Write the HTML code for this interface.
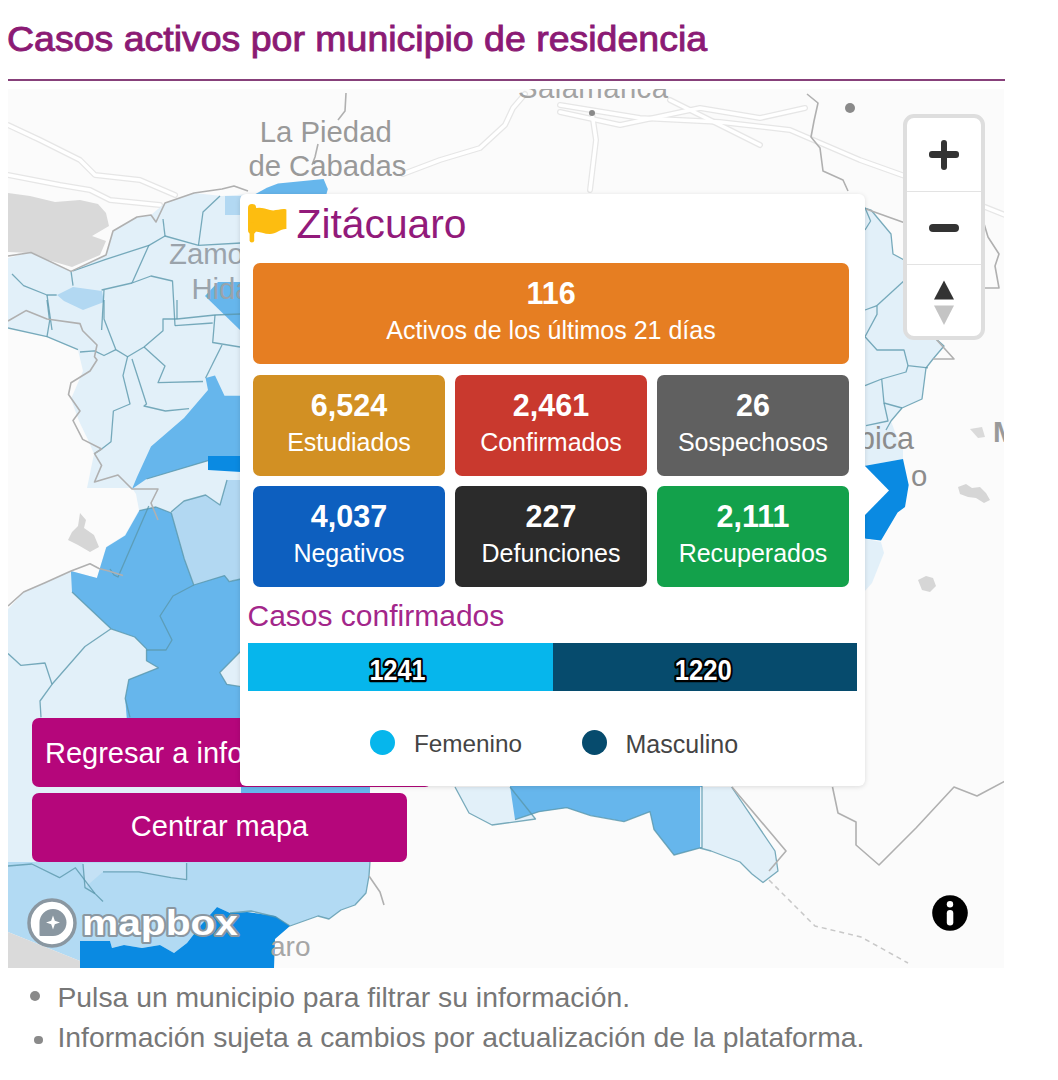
<!DOCTYPE html>
<html><head><meta charset="utf-8">
<style>
html,body{margin:0;padding:0;background:#fff;width:1058px;height:1080px;overflow:hidden;position:relative;font-family:"Liberation Sans",sans-serif;}
.abs{position:absolute;}
#title{left:7px;top:14px;font-size:35px;letter-spacing:0px;color:#8b1a74;white-space:nowrap;line-height:50px;-webkit-text-stroke:0.9px #8b1a74;transform-origin:0 0;transform:scaleX(1.071);}
#rule{left:8px;top:78.5px;width:997px;height:2.5px;background:#87407a;}
#map{left:8px;top:89px;width:996px;height:879px;overflow:hidden;background:#fbfbfb;}
#map svg{position:absolute;left:0;top:0;}
.btn{position:absolute;background:#b5067b;border-radius:7px;color:#fff;font-size:29px;white-space:nowrap;overflow:hidden;}
#card{left:240px;top:194px;width:625px;height:592px;background:#fff;border-radius:6px;box-shadow:0 1px 5px rgba(0,0,0,0.13);}
.box{position:absolute;border-radius:7px;color:#fff;text-align:center;height:101px;}
.box .n{position:absolute;left:0;right:0;top:13px;font-size:30.5px;font-weight:bold;line-height:34px;}
.box .l{position:absolute;left:0;right:0;top:52px;font-size:25px;line-height:30px;}
.note{position:absolute;left:57.5px;font-size:28.3px;color:#777;white-space:nowrap;line-height:32px;}
.bul{position:absolute;left:29px;width:10px;height:10px;border-radius:50%;background:#8a8a8a;}
.zc{position:absolute;left:903px;top:114px;width:74px;height:218px;border:4px solid #dedede;border-radius:11px;background:#fff;}
</style></head><body>
<div id="title" class="abs">Casos activos por municipio de residencia</div>
<div id="rule" class="abs"></div>
<div id="map" class="abs">
<svg width="997" height="879" viewBox="8 89 997 879">

<rect x="8" y="83" width="997" height="885" fill="#fbfbfb"/>
<!-- faint roads -->
<g fill="none" stroke-linejoin="round" stroke-linecap="round">
<g stroke="#e6e6e6" stroke-width="6">
<polyline points="8,125 40,140 80,160 95,175 140,180 175,195"/>
<polyline points="8,175 60,185 90,190 110,200 160,205"/>
<polyline points="403,174 440,160 480,148 505,125 513,108 525,94"/>
<polyline points="560,105 640,118 720,122 790,130 860,160 930,185 1005,215"/>
<polyline points="560,112 620,125 700,108 760,118 805,108"/>
<polyline points="670,100 720,125 760,145"/>
<polyline points="592,113 596,140 590,190"/>
</g>
<g stroke="#ffffff" stroke-width="3.5">
<polyline points="8,125 40,140 80,160 95,175 140,180 175,195"/>
<polyline points="8,175 60,185 90,190 110,200 160,205"/>
<polyline points="403,174 440,160 480,148 505,125 513,108 525,94"/>
<polyline points="560,105 640,118 720,122 790,130 860,160 930,185 1005,215"/>
<polyline points="560,112 620,125 700,108 760,118 805,108"/>
<polyline points="670,100 720,125 760,145"/>
<polyline points="592,113 596,140 590,190"/>
</g>
</g>
<!-- gray water top-left -->
<polygon fill="#d9d9d9" points="8,193 30,196 55,202 80,200 98,204 106,213 109,226 92,236 106,241 100,255 72,267 48,260 30,253 8,252"/>
<!-- light blue base left -->
<polygon fill="#e2f0f9" points="8,258 31,252 71,271 106,255 113,231 137,217 151,215 165,203 194,193 222,196 250,194 250,870 8,870"/>
<!-- white bay -->
<polygon fill="#fbfbfb" points="8,328 47,337 78,350 83,371 71,399 79,421 89,442 94,454 87,488 132,488 136,494 139,510 125,535 106,547 97,578 71,571 24,592 8,609"/>
<polygon fill="#d6d6d6" points="80,513 86,520 84,528 94,535 99,547 90,552 78,545 68,540 72,532 78,526"/>
<!-- medium light patches -->
<polygon fill="#b2d8f2" points="57,295 73,287 102,291 104,302 83,310 64,301"/>
<polygon fill="#b2d8f2" points="225,196 241,196 241,215 225,215"/>
<polygon fill="#b2d8f2" points="171,512 184,501 205.6,495 220,505 227,480 241,480 241,579 194,585 184,559"/>
<!-- medium blue left -->
<polygon fill="#66b6ec" points="205,296 218,282 241,282 241,331"/>
<polygon fill="#66b6ec" points="205.6,378 215,375.6 224.5,395.7 241,395.7 241,460.7 208,460.7 146.5,479 132,489 137,477 151,446.5 184,418 208,390"/>
<polygon fill="#0a8ae2" points="208,456 241,456 241,472 208,470"/>
<polygon fill="#66b6ec" points="139.4,510.6 156,507 171.3,513 184.3,559 193.8,585 224.5,575.6 229.2,581.5 241,579 241,651 219.8,672.5 226.8,684.3 241,686.7 241,740 241,787 370,787 370,795 241,795 241,786 130,760 125.2,698.5 128.8,679.6 158.3,667.8 146.5,660.7 146.5,648.9 134.7,637 111,628.8 72,592 70.9,571 96.9,578 106.3,547.3 125.2,535.4"/>
<!-- top medium blue near card -->
<polygon fill="#66b6ec" points="255.5,194 266.9,187.7 278,183.5 323.6,179 327.8,189 326,196 255,196"/>
<!-- lower left -->
<polygon fill="#b2daf3" points="8,862 370,862 369,876 366,893 355,905 341,910 329,919 318,916 290,926 276,917 251,911 230,913 217,907 201,925 187,943 174,953 160,945 142,948 124,945 112,948 110,941 80,941 80,961 8,932"/>
<polygon fill="#c4e1f5" points="83,863 186.6,863 186.6,879.7 171,877.7 139,871.8 103,871.8 85,887.6"/>
<polygon fill="#dadada" points="8,932 80,961 80,968 8,968"/>
<polygon fill="#0a8ae2" points="80,941 110,941 112,948 124,945 142,948 160,945 174,953 187,943 201,925 217,907 230,913 247,912 275,916 290,926 275,939 274,968 80,968"/>
<!-- bottom center -->
<polygon fill="#e2f0f9" points="455,787 469,813 492,825 535.5,819 510,787"/>
<polygon fill="#66b6ec" points="510,786 702,786 702,847.4 674,855 654,829.5 650,811.7 624,821.6 590.5,815.6 566.7,807.7 539,811.7 515,819.6"/>
<polygon fill="#e2f0f9" points="700,787 731.6,787 775,851 778,871 763,882.5 752,874 740,862 711,851 700,848"/>
<!-- right of card -->
<polygon fill="#e2f0f9" points="865,208 871,210 891,234 893,254 906,261 935,338 944,346 933,359 926,368 922,399 902,408 891,421 895,432 903,449.6 903,459 864,466 864,208"/>
<polygon fill="#0a8ae2" points="864,466 903,459 908.7,485 905,507 897.6,512.6 881,540.4 864,538.5"/>
<polygon fill="#e2f0f9" points="864,538.5 881,542 884,553 872,583 864,592"/>
<!-- teal polygon lines -->
<g fill="none" stroke="#5a97ab" stroke-width="1.3" stroke-opacity="0.8" stroke-linejoin="round">
<polyline points="12,274 23.6,285.6 47,295 56.7,295"/>
<polyline points="47,295 52,330"/>
<polyline points="71,271 73,285.6"/>
<polyline points="73,271 105,259.6 149,245.4 165,236 198.5,245.4 241,243"/>
<polyline points="149,245 132,283 151,276 172.5,281 175,325.7"/>
<polyline points="104,290 101.6,330"/>
<polyline points="101.6,290 132,283"/>
<polyline points="165,236 163,219"/>
<polyline points="198.5,245 203,212 220,196"/>
<polyline points="175,325.7 212.7,323"/>
<polyline points="8,328 47,336.6 78,349.6"/>
<polyline points="47,300 49.6,321 47,336.6"/>
<polyline points="104,300 104,319 115.8,349.6 127.6,356.7 144,347 163,330.7 163,319 177,319 215,315 240,314"/>
<polyline points="177,300 177,319"/>
<polyline points="215,315 212.7,342.5 240,347"/>
<polyline points="80,352 94.5,350.8 104,355.5 115.8,349.6"/>
<polyline points="127.6,356.7 123,375.6 130,404 113.4,411 111,441.8 101.6,449 94.5,453.6"/>
<polyline points="132,359 146.5,404 144,406 165.4,411 189,408.7"/>
<polyline points="144,347 165,366 158,382.7 203,381.5"/>
<polyline points="205.6,378 222,345"/>
<polyline points="8,653.6 21,665.4 45,663 52,684.3 40,701 41,717.4"/>
<polyline points="52,684.3 85,646.5 111,628.8"/>
<polyline points="72,592 111,628.8 134.7,637 146.5,648.9 146.5,660.7 158.3,667.8 128.8,679.6 125.2,698.5 130,717.4"/>
<polyline points="139.4,510.6 156,507 171.3,513 184.3,559 193.8,585 224.5,575.6 229.2,581.5 241,579"/>
<polyline points="241,651 219.8,672.5 226.8,684.3 241,686.7"/>
<polyline points="148.8,506 118,577 114,575 110,569"/>
<polyline points="193.8,585 173,596 160,616 172,640 166,650 146.5,650"/>
<polyline points="171,512 184,501 205.6,495 220,505 227,480"/>
<polyline points="146.5,479 208,460.7"/>
<polyline points="865,207.8 870.6,221 865,230"/>
<polyline points="877,305.6 906,279"/>
<polyline points="877,305.6 865,310"/>
<polyline points="877,305.6 877,314.4 865,336.7 877,350 904,350 908,365.6 928,367.8"/>
<polyline points="908,365.6 906,372 881.7,379 865,385.6"/>
<polyline points="881.7,379 884,403 902,408"/>
<polyline points="884,403 888,421 866,425.6"/>
<polyline points="865,208 871,210 891,234 893,254 906,261"/>
<polyline points="935,338 944,346 933,359 926,368 922,399 902,408 891,421 886,430"/>
<polyline points="455,787 469,813 492,825 535.5,819 510,787"/>
<polyline points="515,819.6 539,811.7 566.7,807.7 590.5,815.6 624,821.6 650,811.7 654,829.5 674,855 702,847.4 702,786"/>
<polyline points="731.6,787 775,851 778,871 763,882.5 752,874 740,862 711,851 700,848"/>
<polyline points="8,866 31.8,864 59.5,877.7 75.4,867.8 95,893.6 103,901.5"/>
<polyline points="83,864 85,887.6 95,893.6"/>
<polyline points="103,871.8 139,871.8 171,877.7 186.6,879.7 186.6,863"/>
<polyline points="370,862 369,876 366,893 355,905 341,910 329,919 318,916 290,926 276,917 251,911 230,913"/>
</g>
<!-- gray state boundaries -->
<g fill="none" stroke="#b0b0b0" stroke-width="1.6" stroke-linejoin="round">
<polyline points="8,256 31,252.5 71,271.4 106,255 113,231 137,217 151,215 156,222 165,203 194,193 222,189 234,186 248,191"/>
<polyline points="8,321 26,310.6 47,319 80,323.6 82.7,330.7 97,345 94.5,356.7 97,360 90,371 71,382.7 68.5,394.5 80,411 73,420.5 82.7,439.4 101.6,449 94.5,453.6 101.6,465.4 94.5,482 118,475 132,489 158,489 151,503 158,520"/>
<polyline points="8,606 23.6,592 45,582.7 71,571 90,563.8 99,568.5 108.7,571 123,575.6"/>
<polyline points="346,93 345,111 338,120"/>
<polyline points="318,144 315,157 312,165"/>
<polyline points="807,94 818,103 814,121 811,137 820,148 823,171 843,180 848,191"/>
<polyline points="982,217 988,237 999,254 995,266 999,288 982,288"/>
<polyline points="732,787 786,851 769,871"/>
<polyline points="832.5,787 838,813 856,822 856,845 879,865 893,851 916,828 954,787 977,796 1005,781"/>
<polyline points="369,876 380,892 384,905"/>
<polyline points="935,338 954,359 933,359"/>
<polyline points="866,209 908,224"/>
</g>
<g fill="none" stroke="#c8c8c8" stroke-width="1.5" stroke-dasharray="5,4">
<polyline points="769,880 792,903 815,926 861,937 908,963"/>
</g>
<circle cx="592" cy="113" r="3" fill="#8a8a8a"/>
<circle cx="850" cy="108" r="5" fill="#8a8a8a"/>
<polygon fill="#d6d6d6" points="958,487 966,484 972,488 980,487 986,493 990,500 984,503 976,498 968,497 960,494"/>
<polygon fill="#d6d6d6" points="918,580 926,576 933,578 936,586 930,592 922,590"/><polygon fill="#dadada" points="970,429 982,427 985,437 978,438"/>
<!-- labels -->
<g font-family="Liberation Sans" fill="#939393" font-size="29.3">
<text x="518" y="98" textLength="150" fill="#a3a3a3">Salamanca</text>
<text x="259.8" y="141.8" fill="#999">La Piedad</text>
<text x="248.4" y="176.4" fill="#999">de Cabadas</text>
<text x="169" y="264.3" fill="#9aa3ab">Zamo</text>
<text x="191.4" y="298.6" fill="#9aa3ab">Hida</text>
<text x="858" y="448.7" fill="#8c8c8c" font-size="30.5">bica</text>
<text x="911" y="486" fill="#8c8c8c">o</text>
<text x="270" y="955.8" fill="#a6a6a6" font-size="28">aro</text>
<text x="993" y="442" fill="#9a9a9a" font-weight="bold">M</text>
</g>

<!-- mapbox logo -->
<g>
<circle cx="52" cy="923" r="23" fill="#fff" stroke="#8a97a1" stroke-width="3.5"/>
<path d="M53,909 A13.5,13.5 0 1 1 53,936 L40.5,936 Q39.5,936 39.5,935 L39.5,922.5 A13.5,13.5 0 0 1 53,909 Z" fill="#8a97a1"/>
<path d="M53,915.5 L54.8,920.7 L60,922.5 L54.8,924.3 L53,929.5 L51.2,924.3 L46,922.5 L51.2,920.7 Z" fill="#fff"/>
<text x="82" y="934.5" font-family="Liberation Sans" font-weight="bold" font-size="35" textLength="156" lengthAdjust="spacingAndGlyphs" fill="#fff" stroke="#8a97a1" stroke-width="4" paint-order="stroke" stroke-linejoin="round">mapbox</text>
</g>
<!-- info icon -->
<circle cx="950" cy="913" r="17.8" fill="#000"/>
<circle cx="950" cy="904.2" r="3.2" fill="#fff"/>
<rect x="946.8" y="910" width="6.5" height="15.5" rx="3.2" fill="#fff"/>
</svg>
</div>

<div class="zc">
 <div class="abs" style="left:0;top:73px;width:74px;height:1px;background:#e3e3e3"></div>
 <div class="abs" style="left:0;top:146px;width:74px;height:1px;background:#e3e3e3"></div>
 <div class="abs" style="left:22px;top:33px;width:30px;height:6.5px;border-radius:3px;background:#333"></div>
 <div class="abs" style="left:33.7px;top:22px;width:6.5px;height:30px;border-radius:3px;background:#333"></div>
 <div class="abs" style="left:22px;top:106px;width:30px;height:8px;border-radius:4px;background:#333"></div>
 <svg class="abs" style="left:0;top:146px" width="74" height="72"><polygon points="27,35.5 47,35.5 37,16.5" fill="#333"/><polygon points="27,41.5 47,41.5 37,61" fill="#c4c4c4"/></svg>
</div>

<div class="btn" style="left:32px;top:718px;width:400px;height:69px;"><span class="abs" style="left:13px;top:19px;">Regresar a información</span></div>
<div class="btn" style="left:32px;top:793px;width:375px;height:69px;text-align:center;"><span style="position:relative;top:17px;">Centrar mapa</span></div>

<div id="card" class="abs">
 <svg class="abs" style="left:624px;top:271px" width="26" height="52"><polygon points="0,0 25,25.5 0,51" fill="#fff"/></svg>
 <svg class="abs" style="left:8px;top:10px" width="40" height="40" viewBox="0 0 40 40">
  <rect x="0" y="0" width="8.2" height="30" rx="4" fill="#fdbd10"/>
  <rect x="1.6" y="18" width="4.6" height="20.5" rx="2.3" fill="#fdbd10"/>
  <path d="M6,4.5 C12,2.5 17,4.5 22,6 C28,7.5 33,4 38.4,5.5 L38.4,25 C33,24.5 28,30 22,30 C16,30 11,27 6,27.5 Z" fill="#fdbd10"/>
 </svg>
 <div class="abs" style="left:56.5px;top:7px;font-size:40.8px;line-height:46px;color:#921a7a;white-space:nowrap;">Zitácuaro</div>
 <div class="box" style="left:13px;top:69px;width:596px;background:#e67e22;"><div class="n">116</div><div class="l">Activos de los últimos 21 días</div></div>
 <div class="box" style="left:13px;top:181px;width:192px;background:#d29023;"><div class="n">6,524</div><div class="l">Estudiados</div></div>
 <div class="box" style="left:215px;top:181px;width:192px;background:#c9392e;"><div class="n">2,461</div><div class="l">Confirmados</div></div>
 <div class="box" style="left:417px;top:181px;width:192px;background:#606060;"><div class="n">26</div><div class="l">Sospechosos</div></div>
 <div class="box" style="left:13px;top:292px;width:192px;background:#0d5fbf;"><div class="n">4,037</div><div class="l">Negativos</div></div>
 <div class="box" style="left:215px;top:292px;width:192px;background:#2b2b2b;"><div class="n">227</div><div class="l">Defunciones</div></div>
 <div class="box" style="left:417px;top:292px;width:192px;background:#13a14b;"><div class="n">2,111</div><div class="l">Recuperados</div></div>
 <div class="abs" style="left:7.5px;top:404.5px;font-size:30px;line-height:34px;color:#a3268a;white-space:nowrap;">Casos confirmados</div>
 <div class="abs" style="left:7.6px;top:449px;width:305.4px;height:48px;background:#06b6ec;"></div>
 <div class="abs" style="left:313px;top:449px;width:304px;height:48px;background:#064b6d;"></div>
 <svg class="abs" style="left:0;top:449px" width="625" height="48"><g font-family="Liberation Sans" font-weight="bold" font-size="29" fill="#fff" stroke="#000" stroke-width="4.6" paint-order="stroke" stroke-linejoin="round" text-anchor="middle"><text x="157.6" y="37" textLength="56" lengthAdjust="spacingAndGlyphs">1241</text><text x="463.3" y="37" textLength="57" lengthAdjust="spacingAndGlyphs">1220</text></g></svg>
 <div class="abs" style="left:129.5px;top:536px;width:25px;height:25px;border-radius:50%;background:#06b6ec;"></div>
 <div class="abs" style="left:174px;top:535px;font-size:24.3px;line-height:30px;color:#444;white-space:nowrap;">Femenino</div>
 <div class="abs" style="left:342px;top:536px;width:25px;height:25px;border-radius:50%;background:#064b6d;"></div>
 <div class="abs" style="left:385.5px;top:535px;font-size:25px;line-height:30px;color:#444;white-space:nowrap;">Masculino</div>
</div>

<div class="bul" style="left:29.6px;top:991px;width:10.2px;height:10.2px;"></div>
<div class="note" style="top:980.5px;">Pulsa un municipio para filtrar su información.</div>
<div class="bul" style="left:34px;top:1035.5px;width:8.6px;height:8.6px;"></div>
<div class="note" style="top:1020.5px;">Información sujeta a cambios por actualización de la plataforma.</div>
</body></html>
